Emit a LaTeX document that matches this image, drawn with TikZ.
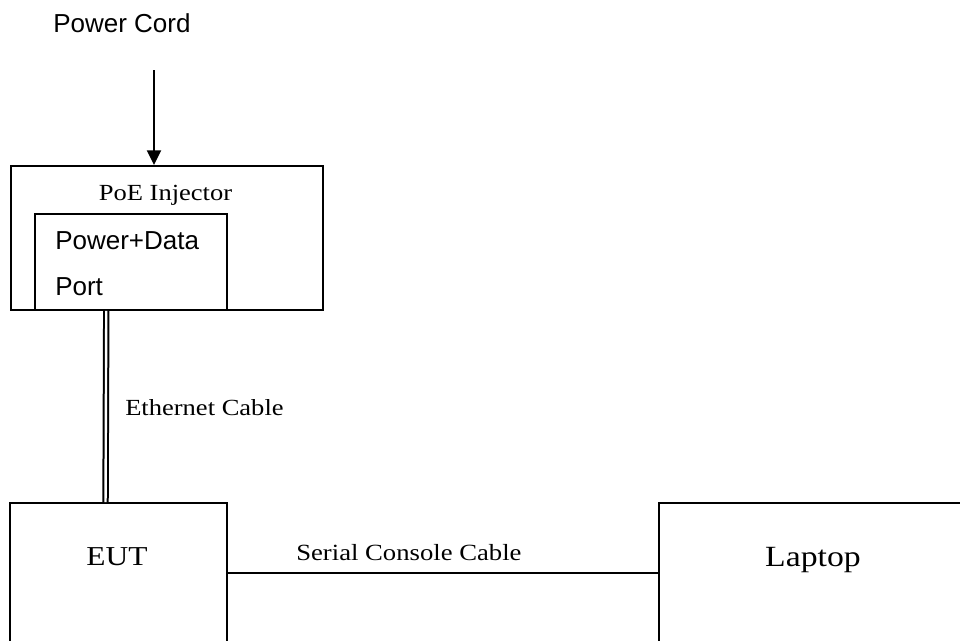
\documentclass[tikz,border=0pt]{standalone}
\usepackage{fontspec}
\setmainfont{Liberation Serif}
\newfontfamily\arialf{Liberation Sans}
\newfontfamily\timesw[FakeStretch=1.15]{Liberation Serif}
\usetikzlibrary{arrows.meta}
\begin{document}
\begin{tikzpicture}[x=0.75pt,y=-0.75pt,
  boxst/.style={draw=black,line width=1.4pt,rectangle,inner sep=0pt,anchor=north west},
  sanslbl/.style={inner sep=0pt,font=\arialf\fontsize{19.5}{23}\selectfont},
  seriflbl/.style={inner sep=0pt},
  wire/.style={draw=black,line width=1.4pt}]
\clip (0,0) rectangle (960,640);
\fill[white] (0,0) rectangle (960,640);
% boxes
\node[boxst,minimum width=234pt,minimum height=108pt] (poe) at (10,165) {};
\node[boxst,minimum width=144pt,minimum height=72pt,fill=white] (port) at (34,213) {};
\node[boxst,minimum width=162.75pt,minimum height=148.5pt] (eut) at (9,502) {};
\node[boxst,minimum width=256.5pt,minimum height=148.5pt] (laptop) at (658,502) {};
% labels
\node[sanslbl,anchor=base west] (pc) at (53,32) {Power Cord};
\node[seriflbl,anchor=base,font=\timesw\fontsize{17.3}{20}\selectfont] (poelbl) at (165.5,200) {PoE Injector};
\node[sanslbl,anchor=base west] (pd) at (55,249) {Power+Data};
\node[sanslbl,anchor=base west] (pt) at (55,295) {Port};
\node[seriflbl,anchor=base west,font=\timesw\fontsize{17.3}{21}\selectfont] (eth) at (125,415) {Ethernet Cable};
\node[seriflbl,anchor=base,font=\timesw\fontsize{20.5}{24}\selectfont] (eutlbl) at (117,565) {EUT};
\node[seriflbl,anchor=base west,font=\timesw\fontsize{17.4}{21}\selectfont] (ser) at (296,560) {Serial Console Cable};
\node[seriflbl,anchor=base,font=\timesw\fontsize{22}{26}\selectfont] (laplbl) at (813,566) {Laptop};
% connectors
\coordinate (cordtop) at (154,70);
\draw[wire,-{Triangle[width=10.5pt,length=11pt]}] (cordtop) -- (cordtop |- poe.north);
\draw[line width=1.5pt,double,double distance=1.8pt]
  ([xshift=54.2pt]port.south west) -- ([xshift=72.4pt]eut.north west);
\draw[wire] ([yshift=-53.5pt]eut.north east) -- ([yshift=-53.5pt]laptop.north west);
\end{tikzpicture}
\end{document}
